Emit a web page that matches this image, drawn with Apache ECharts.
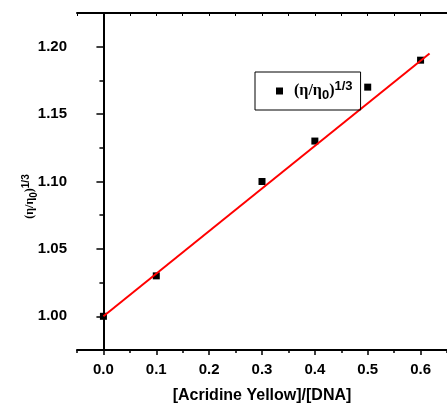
<!DOCTYPE html>
<html>
<head>
<meta charset="utf-8">
<script src="https://cdn.jsdelivr.net/npm/echarts@6/dist/echarts.min.js"></script>
<style>
  html, body { margin: 0; padding: 0; background: #fff; }
  #chart { width: 447px; height: 409px; }
</style>
</head>
<body>
<div id="chart"></div>
<script>
// Relative viscosity of DNA vs. dye/DNA ratio
const ratio = [0.0, 0.1, 0.3, 0.4, 0.5, 0.6];
const viscosity = [1.00, 1.03, 1.10, 1.13, 1.17, 1.19];

// Linear fit endpoints
const fitX = [0.0, 0.617];
const fitY = [1.000, 1.195];

// Tick positions
const xMajor = [0.0, 0.1, 0.2, 0.3, 0.4, 0.5, 0.6];
const xMinor = [-0.05, 0.05, 0.15, 0.25, 0.35, 0.45, 0.55, 0.65];
const xAll = [-0.05, 0.0, 0.05, 0.1, 0.15, 0.2, 0.25, 0.3, 0.35, 0.4, 0.45, 0.5, 0.55, 0.6, 0.65];
const yMajor = [1.00, 1.05, 1.10, 1.15, 1.20];
const yMinor = [1.025, 1.075, 1.125, 1.175];

const seriesName = 'viscosity';

const axisColor = '#000';
const sans = 'Liberation Sans, Arial, sans-serif';
const serif = 'Liberation Serif, Times New Roman, serif';

const chart = echarts.init(document.getElementById('chart'), null, { renderer: 'canvas' });

const xRange = { min: -0.05, max: 0.65, interval: 0.05 };
const yRange = { min: 0.975, max: 1.225, interval: 0.025 };

chart.setOption({
  animation: false,
  backgroundColor: '#fff',
  grid: { left: 77, top: 13, bottom: 57, right: -9, containLabel: false },
  legend: {
    data: [seriesName],
    left: 255,
    top: 72,
    orient: 'horizontal',
    padding: [8, 8, 8, 21],
    borderColor: '#000',
    borderWidth: 1,
    icon: 'rect',
    itemWidth: 7,
    itemHeight: 7,
    itemStyle: { opacity: 1 },
    formatter: function () {
      return '{g| }{p|(η/η}{sub|0}{p|)}{sup|1/3}';
    },
    textStyle: {
      rich: {
        g: { width: 6, fontSize: 12, lineHeight: 12 },
        p: { fontFamily: serif, fontSize: 16, fontWeight: 'bold', color: '#000', lineHeight: 22, verticalAlign: 'middle' },
        sub: { fontFamily: sans, fontSize: 13, fontWeight: 'bold', color: '#000', lineHeight: 12, verticalAlign: 'bottom' },
        sup: { fontFamily: sans, fontSize: 13, fontWeight: 'bold', color: '#000', lineHeight: 12, verticalAlign: 'top' }
      }
    }
  },
  xAxis: [
    {
      type: 'value', position: 'bottom', ...xRange,
      axisLine: { show: true, lineStyle: { color: axisColor, width: 2 } },
      axisTick: { show: true, customValues: xMajor, length: 5, lineStyle: { color: axisColor, width: 1.5 } },
      axisLabel: {
        customValues: xMajor, margin: 12,
        formatter: v => v.toFixed(1),
        fontFamily: sans, fontSize: 15, fontWeight: 'bold', color: '#000'
      },
      splitLine: { show: false },
      name: '[Acridine Yellow]/[DNA]',
      nameLocation: 'middle',
      nameGap: 38,
      nameMoveOverlap: false,
      nameTextStyle: { fontFamily: sans, fontSize: 16, fontWeight: 'bold', color: '#000' }
    },
    {
      type: 'value', position: 'bottom', ...xRange,
      axisLine: { show: false },
      axisTick: { show: true, customValues: xMinor, length: 3, lineStyle: { color: axisColor, width: 1.5 } },
      axisLabel: { show: false },
      splitLine: { show: false }
    },
    {
      type: 'value', position: 'top', ...xRange,
      axisLine: { show: true, lineStyle: { color: axisColor, width: 2 } },
      axisTick: { show: true, inside: true, customValues: xAll, length: 3, lineStyle: { color: axisColor, width: 1 } },
      axisLabel: { show: false },
      splitLine: { show: false }
    }
  ],
  yAxis: [
    {
      type: 'value', position: 'left', ...yRange,
      axisLine: { show: true, lineStyle: { color: axisColor, width: 2 } },
      axisTick: { show: true, customValues: yMajor, length: 7, lineStyle: { color: axisColor, width: 1.5 } },
      axisLabel: {
        customValues: yMajor, margin: 10,
        formatter: v => v.toFixed(2),
        fontFamily: sans, fontSize: 15, fontWeight: 'bold', color: '#000'
      },
      splitLine: { show: false },
      name: '{p|(η/η}{sub|0}{p|)}{sup|1/3}',
      nameLocation: 'middle',
      nameRotate: 90,
      nameGap: 38,
      nameMoveOverlap: false,
      nameTextStyle: {
        padding: [0, 30, 0, 0],
        rich: {
          p: { fontFamily: serif, fontSize: 12, fontWeight: 'bold', color: '#000', lineHeight: 18, verticalAlign: 'middle' },
          sub: { fontFamily: sans, fontSize: 10, fontWeight: 'bold', color: '#000', lineHeight: 10, verticalAlign: 'bottom' },
          sup: { fontFamily: sans, fontSize: 10, fontWeight: 'bold', color: '#000', lineHeight: 10, verticalAlign: 'top' }
        }
      }
    },
    {
      type: 'value', position: 'left', ...yRange,
      axisLine: { show: false },
      axisTick: { show: true, customValues: yMinor, length: 4, lineStyle: { color: axisColor, width: 1.5 } },
      axisLabel: { show: false },
      splitLine: { show: false }
    }
  ],
  series: [
    {
      name: seriesName,
      type: 'scatter',
      symbol: 'rect',
      symbolSize: 7,
      itemStyle: { color: '#000', opacity: 1 },
      data: ratio.map((x, i) => [x, viscosity[i]]),
      z: 2
    },
    {
      name: 'fit',
      type: 'line',
      data: fitX.map((x, i) => [x, fitY[i]]),
      showSymbol: false,
      symbol: 'none',
      lineStyle: { color: '#ff0000', width: 2 },
      z: 3
    }
  ]
});
</script>
</body>
</html>
